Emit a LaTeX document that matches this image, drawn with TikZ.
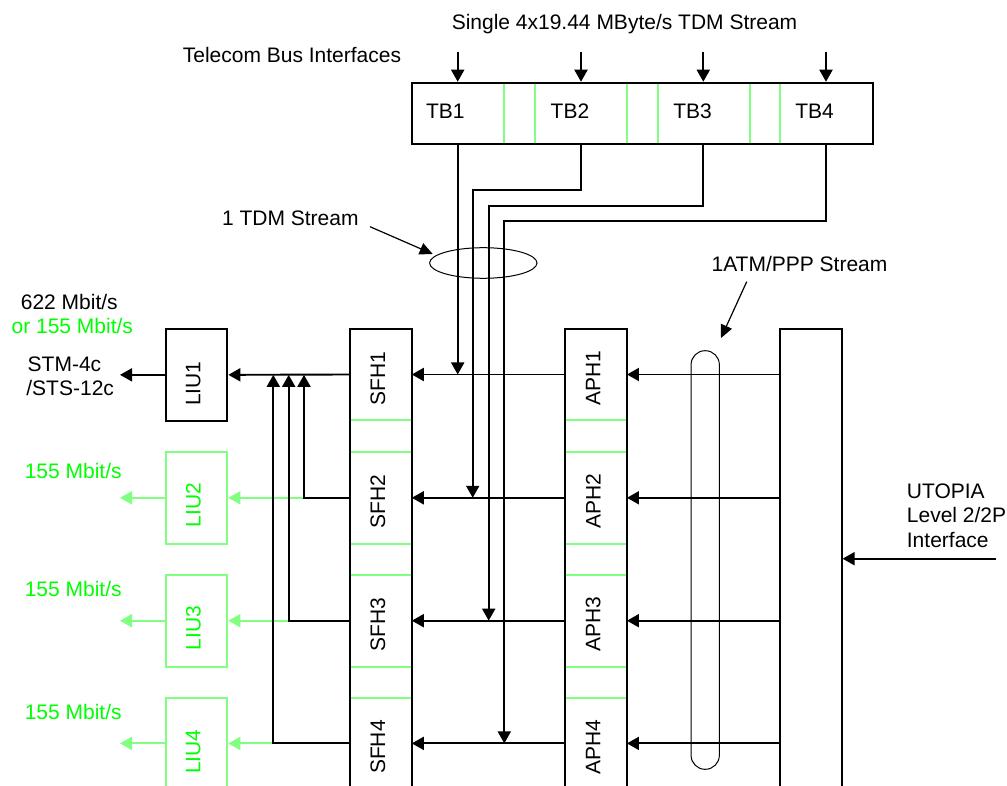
\documentclass[tikz,border=0pt]{standalone}
\usepackage{fontspec}
\setmainfont{Liberation Sans}
\usetikzlibrary{arrows.meta,shapes.geometric,calc}
\definecolor{lgreen}{RGB}{128,255,128}
\definecolor{tgreen}{RGB}{0,255,0}
\begin{document}
\begin{tikzpicture}[x=1pt,y=-1pt,
  font=\fontsize{21}{24.5}\selectfont,
  ln/.style={line width=1.9pt},
  gln/.style={line width=1.9pt, draw=lgreen},
  sep/.style={line width=1.7pt, draw=lgreen},
  arr/.style={ln, -{Triangle[length=12pt,width=13pt]}},
  garr/.style={gln, lgreen, -{Triangle[length=12pt,width=13pt]}},
  thinarr/.style={line width=1.2pt, -{Triangle[length=13pt,width=12pt]}},
  ring/.style={draw, line width=1pt, inner sep=0pt},
  col/.style={draw, ln, rectangle, inner sep=0pt, minimum width=61.5pt},
  seg/.style={rectangle, inner sep=0pt, minimum width=61.5pt, minimum height=91.5pt},
  vlab/.style={rotate=90, inner sep=0pt},
  lab/.style={inner sep=0pt, anchor=base},
  labw/.style={inner sep=0pt, anchor=base west},
]
\useasboundingbox (0,0) rectangle (1007,786);
\fill[white] (0,0) rectangle (1007,786);
\clip (0,0) rectangle (1007,786);

% ---------- top telecom bus block ----------
\node[draw, ln, rectangle, inner sep=0pt, minimum width=461pt, minimum height=61.6pt] (tb) at (642.2,113.5) {};
\foreach \x in {504.3,534.7,626.7,657.7,750,780}
  \draw[sep] (\x,83.6) -- (\x,143.4);
\node[lab] (tb1) at (445.3,118.3) {TB1};
\node[lab] (tb2) at (570,118.3) {TB2};
\node[lab] (tb3) at (692.5,118.3) {TB3};
\node[lab] (tb4) at (814.5,118.3) {TB4};

\node[lab] (single) at (624.5,29.3) {Single 4x19.44 MByte/s TDM Stream};
\node[lab] (tbi) at (292,62.7) {Telecom Bus Interfaces};

\coordinate (i1) at (457.7,51.7);
\coordinate (i2) at (581,51.7);
\coordinate (i3) at (703.3,51.7);
\coordinate (i4) at (826,51.7);
\foreach \i in {1,...,4}
  \draw[arr] (i\i) -- (i\i |- tb.north);

% ---------- columns ----------
\node[col, minimum height=471pt] (sfhcol) at (380.85,564.5) {};
\node[col, minimum height=471pt] (aphcol) at (596,564.5) {};
\node[col, minimum height=471pt] (utopia) at (810.85,564.5) {};
\foreach \y in {420.3,452,543.7,574.7,666.7,697.7} {
  \draw[sep] (351,\y) -- (410.7,\y);
  \draw[sep] (566.2,\y) -- (625.8,\y);
}
\node[seg] (sfh1) at (380.85,374.5) {};
\node[seg] (sfh2) at (380.85,497.8) {};
\node[seg] (sfh3) at (380.85,620.7) {};
\node[seg] (sfh4) at (380.85,743.4) {};
\node[seg] (aph1) at (596,374.5) {};
\node[seg] (aph2) at (596,497.8) {};
\node[seg] (aph3) at (596,620.7) {};
\node[seg] (aph4) at (596,743.4) {};
\node[vlab] (tsfh1) at (377.8,378.2) {SFH1};
\node[vlab] (tsfh2) at (377.8,501.5) {SFH2};
\node[vlab] (tsfh3) at (377.8,624.4) {SFH3};
\node[vlab] (tsfh4) at (377.8,747.1) {SFH4};
\node[vlab] (taph1) at (593.2,378.2) {APH1};
\node[vlab] (taph2) at (593.2,501.5) {APH2};
\node[vlab] (taph3) at (593.2,624.4) {APH3};
\node[vlab] (taph4) at (593.2,747.1) {APH4};

% ---------- LIU boxes ----------
\node[col, minimum height=91.7pt] (liu1) at (196.65,374.85) {};
\node[col, draw=lgreen, minimum height=92pt] (liu2) at (196.65,498) {};
\node[col, draw=lgreen, minimum height=92pt] (liu3) at (196.65,621) {};
\node[col, draw=lgreen, minimum height=102.3pt] (liu4) at (196.65,748.85) {};
\node[vlab] (tliu1) at (193.3,383.6) {LIU1};
\node[vlab, text=tgreen] (tliu2) at (193.3,505.3) {LIU2};
\node[vlab, text=tgreen] (tliu3) at (193.3,628.3) {LIU3};
\node[vlab, text=tgreen] (tliu4) at (193.3,751.7) {LIU4};

% ---------- row connectors ----------
\foreach \i in {1,...,4} {
  \draw[arr] (utopia.west |- aph\i) -- (aph\i.east);
  \draw[arr] (aph\i.west) -- (sfh\i.east);
}
\coordinate (o1) at (120,374.85);
\draw[arr] (sfh1.west) -- (liu1.east);
\draw[arr] (liu1.west) -- (o1);

\coordinate (j2) at (304,497.8);
\coordinate (j3) at (288.7,620.7);
\coordinate (j4) at (273.3,743.4);
\coordinate (g2) at (120,497.8);
\coordinate (g3) at (120,620.7);
\coordinate (g4) at (120,743.4);
\draw[garr] (j2) -- (liu2.east |- j2);
\draw[garr] (j3) -- (liu3.east |- j3);
\draw[garr] (j4) -- (liu4.east |- j4);
\draw[garr] (liu2.west |- j2) -- (g2);
\draw[garr] (liu3.west |- j3) -- (g3);
\draw[garr] (liu4.west |- j4) -- (g4);
\draw[arr] (sfh2.west) -- (j2) -- (j2 |- liu1.east);
\draw[arr] (sfh3.west) -- (j3) -- (j3 |- liu1.east);
\draw[arr] (sfh4.west) -- (j4) -- (j4 |- liu1.east);

% ---------- TB to SFH streams ----------
\coordinate (t1) at (457.7,144.3);
\coordinate (t2) at (581,144.3);
\coordinate (t3) at (703.3,144.3);
\coordinate (t4) at (826,144.3);
\coordinate (b2) at (581,190);
\coordinate (b2l) at (472.7,190);
\coordinate (b3) at (703.3,205.7);
\coordinate (b3l) at (488.7,205.7);
\coordinate (b4) at (826,221);
\coordinate (b4l) at (504.3,221);
\draw[arr] (t1) -- (t1 |- sfh1.east);
\draw[arr] (t2) -- (b2) -- (b2l) -- (b2l |- sfh2.east);
\draw[arr] (t3) -- (b3) -- (b3l) -- (b3l |- sfh3.east);
\draw[arr] (t4) -- (b4) -- (b4l) -- (b4l |- sfh4.east);

% ---------- stream callouts ----------
\node[ring, ellipse, minimum width=107.4pt, minimum height=30.6pt] (tdmring) at (483.3,263) {};
\node[lab] (tdmlab) at (290.3,225.7) {1 TDM Stream};
\coordinate (tdms) at (370,226.7);
\coordinate (tdme) at (432.7,254);
\draw[thinarr] (tdms) -- (tdme);

\node[ring, rectangle, rounded corners=14pt, minimum width=28.3pt, minimum height=418.6pt] (atmring) at (705.2,560) {};
\node[lab] (atmlab) at (799.5,271.7) {1ATM/PPP Stream};
\coordinate (atms) at (746.7,281.7);
\coordinate (atme) at (721,338);
\draw[thinarr] (atms) -- (atme);

% ---------- UTOPIA ----------
\node[labw] (ut1) at (906.7,498.3) {UTOPIA};
\node[labw] (ut2) at (906.7,522.7) {Level 2/2P};
\node[labw] (ut3) at (906.7,547.3) {Interface};
\coordinate (uin) at (996,558.7);
\draw[arr] (uin) -- (uin -| utopia.east);

% ---------- left labels ----------
\node[lab] (r622) at (69.3,309.3) {622 Mbit/s};
\node[lab, text=tgreen] (r155a) at (72.3,333.5) {or 155 Mbit/s};
\node[labw] (stm) at (27.5,372) {STM-4c};
\node[labw] (sts) at (26.2,395.5) {/STS-12c};
\node[lab, text=tgreen] (r155b) at (73.2,478.3) {155 Mbit/s};
\node[lab, text=tgreen] (r155c) at (73.2,596.7) {155 Mbit/s};
\node[lab, text=tgreen] (r155d) at (73.2,719.3) {155 Mbit/s};
\end{tikzpicture}
\end{document}
